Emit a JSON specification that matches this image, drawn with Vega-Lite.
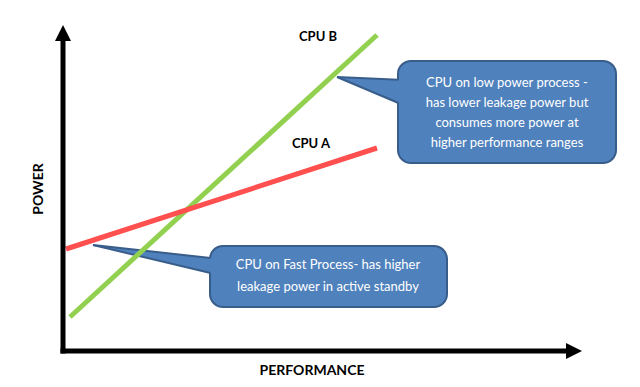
{
  "$schema": "https://vega.github.io/schema/vega-lite/v6.json",
  "width": 640,
  "height": 387,
  "autosize": {"type": "fit", "contains": "padding"},
  "padding": 0,
  "background": "white",
  "config": {"view": {"stroke": null}},
  "datasets": {
    "boxes": [
      {"id": "low", "x1": 335, "x2": 553, "y1": 290, "y2": 188},
      {"id": "fast", "x1": 147, "x2": 384, "y1": 105, "y2": 44}
    ],
    "pointers": [
      {"id": "low", "x": 274, "y": 274, "y2": 274},
      {"id": "low", "x": 340, "y": 271, "y2": 246},
      {"id": "fast", "x": 30, "y": 106, "y2": 106},
      {"id": "fast", "x": 152, "y": 92.5, "y2": 77}
    ],
    "edges": [
      {"id": "low_top", "x": 274, "y": 274},
      {"id": "low_top", "x": 335.5, "y": 271.2},
      {"id": "low_bot", "x": 274, "y": 274},
      {"id": "low_bot", "x": 335.5, "y": 248},
      {"id": "fast_top", "x": 30, "y": 106},
      {"id": "fast_top", "x": 147.5, "y": 93},
      {"id": "fast_bot", "x": 30, "y": 106},
      {"id": "fast_bot", "x": 147.5, "y": 78}
    ],
    "axes": [
      {"axis": "y", "x": 0, "x2": 0, "y": -2.5, "y2": 312},
      {"axis": "x", "x": -2.5, "x2": 505, "y": 0, "y2": 0}
    ],
    "lines": [
      {"cpu": "CPU B", "perf": 7, "power": 34},
      {"cpu": "CPU B", "perf": 314, "power": 316},
      {"cpu": "CPU A", "perf": 3, "power": 102},
      {"cpu": "CPU A", "perf": 314, "power": 203}
    ],
    "upArrow": [{"x": 0, "y": 318}],
    "rightArrow": [{"x": 511, "y": 0}],
    "labels": [
      {"t": "CPU B", "x": 255, "y": 314},
      {"t": "CPU A", "x": 248, "y": 207}
    ],
    "callText": [
      {"t": "CPU on low power process -", "x": 444, "y": 268},
      {"t": "has lower leakage power but", "x": 444, "y": 248},
      {"t": "consumes more power at", "x": 444, "y": 228},
      {"t": "higher performance ranges", "x": 444, "y": 208},
      {"t": "CPU on Fast Process- has higher", "x": 265, "y": 86},
      {"t": "leakage power in active standby", "x": 265, "y": 64}
    ],
    "xTitle": [{"t": "PERFORMANCE", "x": 249, "y": -20}],
    "yTitle": [{"t": "POWER", "x": -24, "y": 162}]
  },
  "layer": [
    {
      "data": {"name": "boxes"},
      "mark": {"type": "rect", "cornerRadius": 13, "fill": "#4F81BD", "stroke": "#385D8A", "strokeWidth": 2},
      "encoding": {
        "x": {"field": "x1", "type": "quantitative", "scale": {"domain": [-63, 577], "nice": false, "zero": false}, "axis": null},
        "x2": {"field": "x2"},
        "y": {"field": "y1", "type": "quantitative", "scale": {"domain": [-36, 351], "nice": false, "zero": false}, "axis": null},
        "y2": {"field": "y2"}
      }
    },
    {
      "data": {"name": "pointers"},
      "mark": {"type": "area", "fill": "#4F81BD", "opacity": 1},
      "encoding": {
        "x": {"field": "x", "type": "quantitative", "scale": {"domain": [-63, 577], "nice": false, "zero": false}, "axis": null},
        "y": {"field": "y", "type": "quantitative", "scale": {"domain": [-36, 351], "nice": false, "zero": false}, "axis": null},
        "y2": {"field": "y2"},
        "detail": {"field": "id"}
      }
    },
    {
      "data": {"name": "edges"},
      "mark": {"type": "line", "stroke": "#385D8A", "strokeWidth": 2},
      "encoding": {
        "x": {"field": "x", "type": "quantitative", "scale": {"domain": [-63, 577], "nice": false, "zero": false}, "axis": null},
        "y": {"field": "y", "type": "quantitative", "scale": {"domain": [-36, 351], "nice": false, "zero": false}, "axis": null},
        "detail": {"field": "id"}
      }
    },
    {
      "data": {"name": "lines"},
      "mark": {"type": "line", "strokeWidth": 5, "strokeCap": "butt"},
      "encoding": {
        "x": {"field": "perf", "type": "quantitative", "scale": {"domain": [-63, 577], "nice": false, "zero": false}, "axis": null},
        "y": {"field": "power", "type": "quantitative", "scale": {"domain": [-36, 351], "nice": false, "zero": false}, "axis": null},
        "color": {"field": "cpu", "type": "nominal", "scale": {"domain": ["CPU B", "CPU A"], "range": ["#92D050", "#FF4F4F"]}, "legend": null},
        "order": {"field": "perf"}
      }
    },
    {
      "data": {"name": "axes"},
      "mark": {"type": "rule", "strokeWidth": 5, "color": "black", "strokeCap": "butt"},
      "encoding": {
        "x": {"field": "x", "type": "quantitative", "scale": {"domain": [-63, 577], "nice": false, "zero": false}, "axis": null},
        "x2": {"field": "x2"},
        "y": {"field": "y", "type": "quantitative", "scale": {"domain": [-36, 351], "nice": false, "zero": false}, "axis": null},
        "y2": {"field": "y2"}
      }
    },
    {
      "data": {"name": "upArrow"},
      "mark": {"type": "point", "shape": "M-1,1L0,-1L1,1Z", "filled": true, "color": "black", "opacity": 1, "size": 256},
      "encoding": {
        "x": {"field": "x", "type": "quantitative", "scale": {"domain": [-63, 577], "nice": false, "zero": false}, "axis": null},
        "y": {"field": "y", "type": "quantitative", "scale": {"domain": [-36, 351], "nice": false, "zero": false}, "axis": null}
      }
    },
    {
      "data": {"name": "rightArrow"},
      "mark": {"type": "point", "shape": "M-1,-1L1,0L-1,1Z", "filled": true, "color": "black", "opacity": 1, "size": 256},
      "encoding": {
        "x": {"field": "x", "type": "quantitative", "scale": {"domain": [-63, 577], "nice": false, "zero": false}, "axis": null},
        "y": {"field": "y", "type": "quantitative", "scale": {"domain": [-36, 351], "nice": false, "zero": false}, "axis": null}
      }
    },
    {
      "data": {"name": "labels"},
      "mark": {"type": "text", "font": "Lato", "fontWeight": "bold", "fontSize": 13, "color": "black", "align": "center", "baseline": "middle"},
      "encoding": {
        "x": {"field": "x", "type": "quantitative", "scale": {"domain": [-63, 577], "nice": false, "zero": false}, "axis": null},
        "y": {"field": "y", "type": "quantitative", "scale": {"domain": [-36, 351], "nice": false, "zero": false}, "axis": null},
        "text": {"field": "t"}
      }
    },
    {
      "data": {"name": "callText"},
      "mark": {"type": "text", "font": "Lato", "fontSize": 13, "color": "white", "align": "center", "baseline": "middle"},
      "encoding": {
        "x": {"field": "x", "type": "quantitative", "scale": {"domain": [-63, 577], "nice": false, "zero": false}, "axis": null},
        "y": {"field": "y", "type": "quantitative", "scale": {"domain": [-36, 351], "nice": false, "zero": false}, "axis": null},
        "text": {"field": "t"}
      }
    },
    {
      "data": {"name": "xTitle"},
      "mark": {"type": "text", "font": "Lato", "fontWeight": "bold", "fontSize": 14, "color": "black", "align": "center", "baseline": "middle"},
      "encoding": {
        "x": {"field": "x", "type": "quantitative", "scale": {"domain": [-63, 577], "nice": false, "zero": false}, "axis": null},
        "y": {"field": "y", "type": "quantitative", "scale": {"domain": [-36, 351], "nice": false, "zero": false}, "axis": null},
        "text": {"field": "t"}
      }
    },
    {
      "data": {"name": "yTitle"},
      "mark": {"type": "text", "font": "Lato", "fontWeight": "bold", "fontSize": 14, "color": "black", "align": "center", "baseline": "middle", "angle": 270},
      "encoding": {
        "x": {"field": "x", "type": "quantitative", "scale": {"domain": [-63, 577], "nice": false, "zero": false}, "axis": null},
        "y": {"field": "y", "type": "quantitative", "scale": {"domain": [-36, 351], "nice": false, "zero": false}, "axis": null},
        "text": {"field": "t"}
      }
    }
  ]
}
